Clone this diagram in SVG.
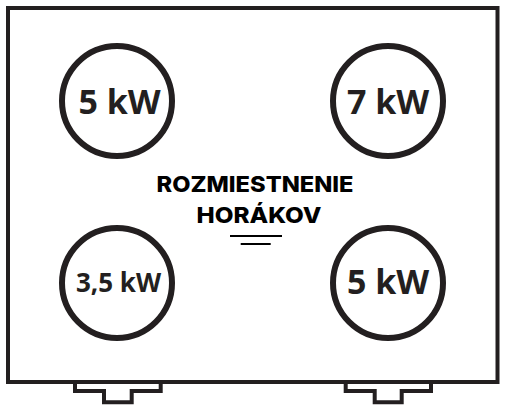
<svg xmlns="http://www.w3.org/2000/svg" width="506" height="411" viewBox="0 0 506 411">
<style>
.ln{fill:none;stroke:#231f20;stroke-width:4}
.ring{fill:none;stroke:#231f20;stroke-width:6}
.kw{font-family:"Open Sans","Liberation Sans",sans-serif;font-weight:700;fill:#231f20;text-anchor:middle}
.ttl{font-family:Inter,"Open Sans","Liberation Sans",sans-serif;font-weight:800;font-size:22px;fill:#000;text-anchor:middle}
</style>
<rect width="506" height="411" fill="#fff"/>
<g id="body">
<rect class="ln" x="8" y="8" width="489.5" height="374"/>
<path class="ln" d="M75,382V391H104V402.3H131.7V391H160.7V382"/>
<path class="ln" d="M345.7,382V391H374.7V402.3H401.7V391H431V382"/>
</g>
<g id="burner-tl">
<circle class="ring" cx="117" cy="101" r="55"/>
<text class="kw" x="119.5" y="114" font-size="34">5 kW</text>
</g>
<g id="burner-tr">
<circle class="ring" cx="388" cy="101" r="55"/>
<text class="kw" x="388" y="114" font-size="34">7 kW</text>
</g>
<g id="burner-bl">
<circle class="ring" cx="117" cy="283" r="55"/>
<text class="kw" x="118.5" y="291.5" font-size="26">3,5 kW</text>
</g>
<g id="burner-br">
<circle class="ring" cx="388" cy="283" r="55"/>
<text class="kw" x="388" y="294" font-size="34">5 kW</text>
</g>
<g id="title">
<text class="ttl" x="255" y="192" textLength="197" lengthAdjust="spacingAndGlyphs">ROZMIESTNENIE</text>
<text class="ttl" x="259" y="223" textLength="125" lengthAdjust="spacingAndGlyphs">HORÁKOV</text>
<line x1="230" y1="236" x2="282" y2="236" stroke="#000" stroke-width="2"/>
<line x1="240.7" y1="244" x2="270.7" y2="244" stroke="#000" stroke-width="2"/>
</g>
</svg>
